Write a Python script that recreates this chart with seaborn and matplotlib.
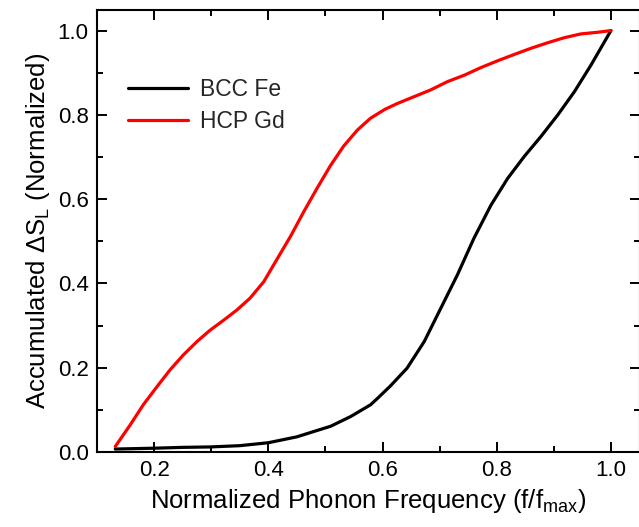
import numpy as np
import pandas as pd
import matplotlib
matplotlib.use("Agg")
import matplotlib.pyplot as plt
import seaborn as sns
from matplotlib.ticker import MultipleLocator

# ---- data ----
fe_x = [0.132, 0.20, 0.25, 0.298, 0.35, 0.400, 0.450, 0.497, 0.509, 0.544,
        0.579, 0.591, 0.614, 0.643, 0.673, 0.702, 0.731, 0.760, 0.790, 0.819,
        0.848, 0.877, 0.907, 0.936, 0.965, 1.0]
fe_y = [0.007, 0.009, 0.011, 0.012, 0.015, 0.022, 0.036, 0.056, 0.061, 0.084,
        0.112, 0.127, 0.157, 0.199, 0.262, 0.341, 0.420, 0.507, 0.586, 0.649,
        0.701, 0.748, 0.800, 0.855, 0.918, 1.0]

gd_x = [0.132, 0.158, 0.181, 0.205, 0.228, 0.251, 0.275, 0.298, 0.322, 0.345,
        0.368, 0.392, 0.415, 0.439, 0.462, 0.485, 0.509, 0.532, 0.556, 0.579,
        0.604, 0.626, 0.655, 0.684, 0.714, 0.743, 0.772, 0.801, 0.830, 0.860,
        0.889, 0.918, 0.947, 0.977, 1.0]
gd_y = [0.013, 0.064, 0.112, 0.155, 0.195, 0.230, 0.262, 0.289, 0.313, 0.337,
        0.365, 0.404, 0.457, 0.512, 0.570, 0.625, 0.680, 0.726, 0.764, 0.792,
        0.813, 0.827, 0.843, 0.859, 0.879, 0.894, 0.912, 0.928, 0.943, 0.958,
        0.971, 0.983, 0.992, 0.996, 1.0]

labels = ["BCC Fe", "HCP Gd"]
colors = {"BCC Fe": "black", "HCP Gd": "red"}

df = pd.concat([
    pd.DataFrame({"x": fe_x, "y": fe_y, "material": labels[0]}),
    pd.DataFrame({"x": gd_x, "y": gd_y, "material": labels[1]}),
], ignore_index=True)

sns.set_theme(style="white")
plt.rcParams["font.family"] = ["Liberation Sans", "DejaVu Sans"]
plt.rcParams["mathtext.fontset"] = "custom"
plt.rcParams["mathtext.rm"] = "Liberation Sans"
plt.rcParams["mathtext.it"] = "Liberation Sans:italic"

fig = plt.figure(figsize=(6.39, 5.27), dpi=100)
ax = fig.add_axes([97 / 639, 1 - 452 / 527, (639.5 - 97) / 639, (452 - 9.5) / 527])

sns.lineplot(data=df, x="x", y="y", hue="material", palette=colors,
             estimator=None, sort=False, linewidth=2.3, ax=ax)

ax.set_xlim(0.1, 1.05)
ax.set_ylim(0.0, 1.05)
ax.set_xticks([0.2, 0.4, 0.6, 0.8, 1.0])
ax.set_xticklabels(["0.2", "0.4", "0.6", "0.8", "1.0"])
ax.set_yticks([0.0, 0.2, 0.4, 0.6, 0.8, 1.0])
ax.set_yticklabels(["0.0", "0.2", "0.4", "0.6", "0.8", "1.0"])
ax.xaxis.set_minor_locator(MultipleLocator(0.1))
ax.yaxis.set_minor_locator(MultipleLocator(0.1))

ax.tick_params(which="both", direction="in", top=True, right=True,
               bottom=True, left=True, color="black", width=1.4,
               labelsize=16, labelcolor="black")
ax.tick_params(which="major", length=7, pad=6)
ax.tick_params(which="minor", length=4.5)
for s in ax.spines.values():
    s.set_color("black")
    s.set_linewidth(1.5)

ax.set_xlabel(r"Normalized Phonon Frequency (f/f$_{\mathrm{max}}$)",
              fontsize=18.5, color="black", labelpad=4)
ax.set_ylabel(r"Accumulated $\Delta$S$_{\mathrm{L}}$ (Normalized)",
              fontsize=18.5, color="black", labelpad=4)

leg = ax.legend(loc="upper left", bbox_to_anchor=(0.057, 0.845), frameon=False,
                fontsize=16.5, handlelength=2.6, handletextpad=0.55,
                labelspacing=0.4, borderpad=0, borderaxespad=0)
for line in leg.get_lines():
    line.set_linewidth(2.3)

fig.savefig("out.png", dpi=100)
